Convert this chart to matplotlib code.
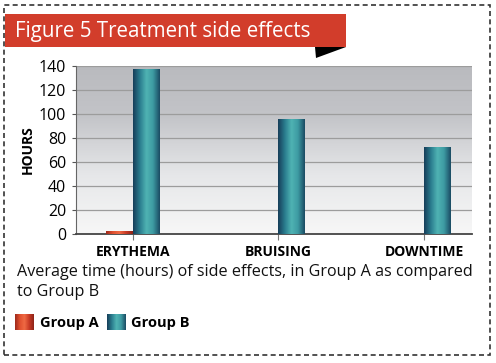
import matplotlib.pyplot as plt
import matplotlib.patches as mpatches
from matplotlib.colors import LinearSegmentedColormap
import numpy as np

categories = ["ERYTHEMA", "BRUISING", "DOWNTIME"]
group_a = [2.5, 0, 0]
group_b = [137, 96, 72.5]
y_ticks = [0, 20, 40, 60, 80, 100, 120, 140]

title = "Figure 5 Treatment side effects"
caption = "Average time (hours) of side effects, in Group A as compared\nto Group B"

W, H = 496, 363
fig = plt.figure(figsize=(W / 100, H / 100), dpi=100)
fig.patch.set_facecolor("white")

def px(x0, y0, x1, y1):
    # pixel box (from top left) -> figure fraction rect
    return [x0 / W, 1 - y1 / H, (x1 - x0) / W, (y1 - y0) / H]

# dashed frame
fig.add_artist(mpatches.Rectangle((4 / W, 1 - 355 / H), 486 / W, 350 / H,
                                  transform=fig.transFigure, fill=False,
                                  ec="#333333", lw=1.2, ls=(0, (3, 2))))
# red banner + small black fold
fig.add_artist(mpatches.Rectangle((5 / W, 1 - 47 / H), 341 / W, 33 / H,
                                  transform=fig.transFigure, fc="#d23d2b", ec="none"))
fig.add_artist(mpatches.Polygon([(315 / W, 1 - 47 / H), (346 / W, 1 - 47 / H),
                                 (316 / W, 1 - 58 / H)],
                                transform=fig.transFigure, fc="black", ec="none"))
fig.text(15 / W, 1 - 31 / H, title, color="white", fontsize=14.8,
         family="Open Sans", va="center", ha="left")

ax = fig.add_axes(px(76, 65.7, 472, 234.3))
x = np.arange(len(categories))
w = 0.185
ax.set_xlim(-0.389, 2.329)
ax.set_ylim(0, 140)

# background gradient
bg = LinearSegmentedColormap.from_list("bg", [(0, "#f7f7f7"), (0.35, "#e6e7e9"),
                                              (0.7, "#c3c4c8"), (1, "#b9babe")])
grad = np.linspace(0, 1, 256).reshape(-1, 1)
ax.imshow(grad, cmap=bg, origin="lower", aspect="auto",
          extent=[-0.389, 2.329, 0, 140], zorder=0)
for t in y_ticks[1:]:
    ax.axhline(t, color="#9c9c9c", lw=0.9, zorder=1)

teal = LinearSegmentedColormap.from_list("teal", ["#173f5a", "#2a7c8e", "#4fb3b3",
                                                  "#3d9aa2", "#1b4c64"])
red = LinearSegmentedColormap.from_list("red", ["#9e2a1c", "#e0502f", "#f06a44",
                                                "#c93a25", "#8e2418"])
hgrad = np.linspace(0, 1, 64).reshape(1, -1)

bars_a = ax.bar(x - w / 2, group_a, w, color="none", zorder=2)
bars_b = ax.bar(x + w / 2, group_b, w, color="none", zorder=2)
for bars, cm in [(bars_a, red), (bars_b, teal)]:
    for p in bars:
        if p.get_height() <= 0:
            continue
        im = ax.imshow(hgrad, cmap=cm, aspect="auto", zorder=3,
                       extent=[p.get_x(), p.get_x() + p.get_width(), 0, p.get_height()])
        im.set_clip_path(p)

ax.set_xlim(-0.389, 2.329)
ax.set_ylim(0, 140)
ax.set_yticks(y_ticks)
ax.set_xticks(x)
ax.set_xticklabels(categories, fontweight="bold", fontsize=10, family="Open Sans")
for lab in ax.get_yticklabels():
    lab.set_family("Open Sans")
    lab.set_fontsize(11.5)
ax.tick_params(axis="y", length=3, color="#555555", pad=4)
ax.tick_params(axis="x", length=4, color="#777777", pad=4)
for s in ["top", "right"]:
    ax.spines[s].set_visible(False)
ax.spines["left"].set_color("#666666")
ax.spines["bottom"].set_color("#444444")
ax.spines["bottom"].set_linewidth(1.3)
ax.set_ylabel("HOURS", fontweight="bold", fontsize=10, family="Open Sans", labelpad=3)

fig.text(17 / W, 1 - 282 / H, caption, fontsize=11.6, family="Open Sans",
         va="center", ha="left", linespacing=1.25, color="#111111")

# legend
ra = fig.add_axes(px(15, 314, 34, 330))
ra.imshow(hgrad, cmap=red, aspect="auto")
ra.axis("off")
rb = fig.add_axes(px(107, 314, 126, 330))
rb.imshow(hgrad, cmap=teal, aspect="auto")
rb.axis("off")
fig.text(40 / W, 1 - 323 / H, "Group A", fontsize=10.5, fontweight="bold",
         family="Open Sans", va="center")
fig.text(131 / W, 1 - 323 / H, "Group B", fontsize=10.5, fontweight="bold",
         family="Open Sans", va="center")

fig.savefig("out.png", dpi=100)
